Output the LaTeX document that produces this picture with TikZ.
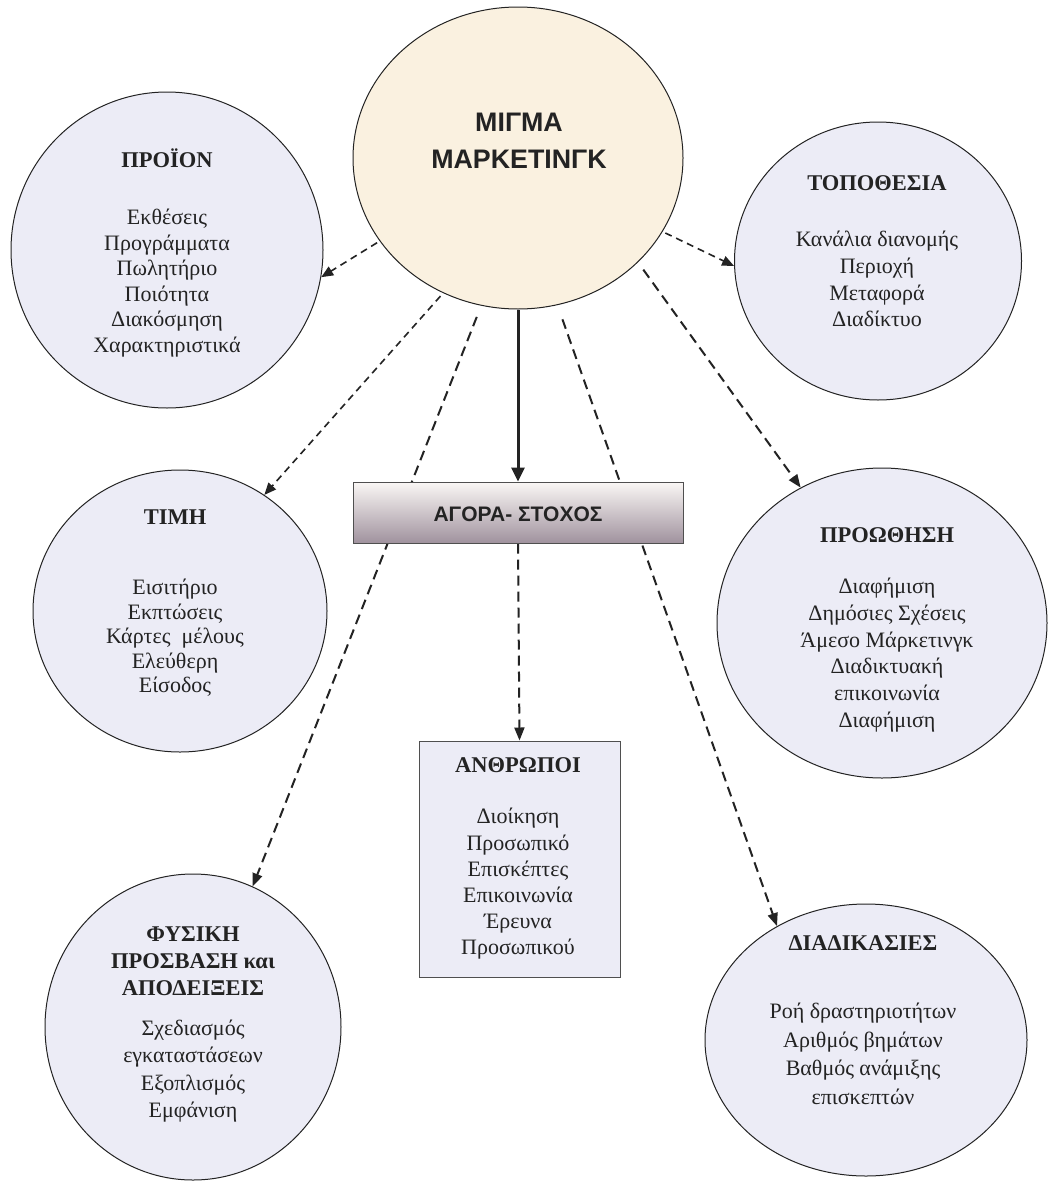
\documentclass[tikz,border=0pt]{standalone}
\usepackage{fontspec}
\setmainfont{Liberation Serif}
\newfontfamily\arialfont{Liberation Sans}
\usetikzlibrary{shapes.geometric,arrows.meta}
\definecolor{lav}{RGB}{236,236,246}
\definecolor{cream}{RGB}{250,241,224}
\definecolor{boxtop}{RGB}{250,247,245}
\definecolor{boxbot}{RGB}{160,146,158}
\definecolor{ink}{RGB}{35,35,35}
\pgfdeclarelayer{bg}
\pgfsetlayers{bg,main}
\begin{document}
\begin{tikzpicture}[x=1pt,y=-1pt,
  circ/.style={ellipse, draw=ink, line width=1pt, fill=lav, inner sep=0pt},
  head/.style={font=\fontsize{22.5}{27}\selectfont\bfseries, align=center, text=ink},
  body/.style={align=center, text=ink},
  conn/.style={draw=ink, line width=1.6pt, dash pattern=on 7pt off 5pt, -{Triangle[length=12pt,width=10pt]}},
  connlong/.style={draw=ink, line width=2pt, dash pattern=on 10pt off 6pt, -{Triangle[length=13pt,width=10pt]}},
  gapped/.style={shorten <=12pt}
]
\useasboundingbox (0,0) rectangle (1049,1186);

% central ellipse
\node[ellipse, draw=ink, line width=1pt, fill=cream, inner sep=0pt,
      minimum width=330pt, minimum height=302pt] (mix) at (518,158) {};
\node[font=\fontsize{26.8}{37}\selectfont\arialfont\bfseries, align=center, text=ink] (mixt) at (519,141) {ΜΙΓΜΑ\\ΜΑΡΚΕΤΙΝΓΚ};

% target market box
\node[draw=ink!80, line width=1pt, top color=boxtop, bottom color=boxbot,
      minimum width=330pt, minimum height=61pt, inner sep=0pt] (agora) at (518,512.5) {};
\node[font=\fontsize{21}{24}\selectfont\arialfont\bfseries, text=ink] (agorat) at (518,514) {ΑΓΟΡΑ- ΣΤΟΧΟΣ};

% people box
\node[draw=ink!80, line width=1pt, fill=lav, minimum width=201pt, minimum height=236pt, inner sep=0pt] (anth) at (519.5,859) {};
\node[head] (anthh) at (518,765) {ΑΝΘΡΩΠΟΙ};
\node[body, font=\fontsize{22}{26.2}\selectfont] (anthb) at (518,884) {Διοίκηση\\Προσωπικό\\Επισκέπτες\\Επικοινωνία\\Έρευνα\\Προσωπικού};

% product
\node[circ, minimum width=312pt, minimum height=316pt] (prod) at (167,250) {};
\node[head] (prodh) at (167,158) {ΠΡΟΪΟΝ};
\node[body, font=\fontsize{22}{25.6}\selectfont] (prodb) at (167,283) {Εκθέσεις\\Προγράμματα\\Πωλητήριο\\Ποιότητα\\Διακόσμηση\\Χαρακτηριστικά};

% place
\node[circ, minimum width=287pt, minimum height=278pt] (topo) at (878,261) {};
\node[head] (topoh) at (877,183) {ΤΟΠΟΘΕΣΙΑ};
\node[body, font=\fontsize{22}{26.7}\selectfont] (topob) at (877,279) {Κανάλια διανομής\\Περιοχή\\Μεταφορά\\Διαδίκτυο};

% price
\node[circ, minimum width=294pt, minimum height=282pt] (timh) at (180,611) {};
\node[head] (timhh) at (175,517) {ΤΙΜΗ};
\node[body, font=\fontsize{22}{24.5}\selectfont] (timhb) at (175,638) {Εισιτήριο\\Εκπτώσεις\\Κάρτες\ \ μέλους\\Ελεύθερη\\Είσοδος};

% promotion
\node[circ, minimum width=330pt, minimum height=310pt] (prom) at (882,623) {};
\node[head] (promh) at (887,535) {ΠΡΟΩΘΗΣΗ};
\node[body, font=\fontsize{22}{26.8}\selectfont] (promb) at (887,655) {Διαφήμιση\\Δημόσιες Σχέσεις\\Άμεσο Μάρκετινγκ\\Διαδικτυακή\\επικοινωνία\\Διαφήμιση};

% physical evidence
\node[circ, minimum width=296pt, minimum height=306pt] (fys) at (193,1027) {};
\node[head] (fysh) at (193,961) {ΦΥΣΙΚΗ\\ΠΡΟΣΒΑΣΗ και\\ΑΠΟΔΕΙΞΕΙΣ};
\node[body, font=\fontsize{22}{27.5}\selectfont] (fysb) at (193,1071) {Σχεδιασμός\\εγκαταστάσεων\\Εξοπλισμός\\Εμφάνιση};

% processes
\node[circ, minimum width=322pt, minimum height=272pt] (proc) at (866,1040) {};
\node[head] (proch) at (863,943) {ΔΙΑΔΙΚΑΣΙΕΣ};
\node[body, font=\fontsize{22}{28.5}\selectfont] (procb) at (863,1054) {Ροή δραστηριοτήτων\\Αριθμός βημάτων\\Βαθμός ανάμιξης\\επισκεπτών};

\begin{pgfonlayer}{bg}
\fill[white] (0,0) rectangle (1049,1186);
\draw[draw=ink, line width=3pt, -{Triangle[length=14pt,width=13pt]}] (mix.south) -- (agora.north);
\draw[conn, shorten <=3pt] (mix.211) -- (prod.-10);
\draw[conn, shorten <=3pt] (mix.-27) -- (topo.182);
\draw[conn, shorten <=4pt] (mix.241) -- (timh.54);
\draw[connlong, gapped] (mix.256) -- (fys.67);
\draw[connlong, shorten <=15pt] (mix.285) -- (proc.128);
\draw[connlong, shorten <=9pt] (mix.319) -- (prom.121);
\draw[connlong] (agora.south) -- (anth.north);
\end{pgfonlayer}
\end{tikzpicture}
\end{document}
